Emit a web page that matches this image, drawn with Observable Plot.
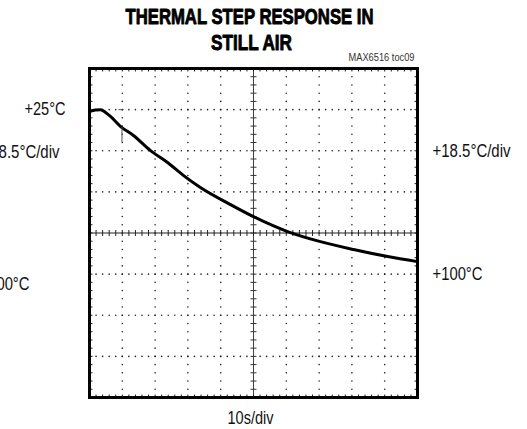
<!DOCTYPE html>
<html>
<head>
<meta charset="utf-8">
<script src="https://cdn.jsdelivr.net/npm/d3@7"></script>
<script src="https://cdn.jsdelivr.net/npm/@observablehq/plot@0.6"></script>
<style>
  html, body { margin: 0; padding: 0; background: #fff; }
  #chart svg { display: block; }
</style>
</head>
<body>
<div id="chart"></div>
<script>
// ---- data ----
const timeS = [0, 1.8, 3.4, 4.9, 6.4, 9.5, 13.4, 18.6, 23.8, 28.7, 33.8, 43.0, 50.0, 60.4, 70.4, 80.5, 90.9, 100];
const tempC = [25.9, 25.2, 25.0, 26.3, 28.1, 32.7, 36.8, 43.7, 49.1, 55.1, 60.5, 68.3, 73.8, 80.6, 85.2, 88.8, 92.0, 94.3];

// small glitch on the trace
const glitchT = [9.9];
const glitchFrom = [33.2];
const glitchTo = [40.0];
const dashT1 = [9.0];
const dashT2 = [10.6];
const dashC = [25.0];

// graticule divisions
const xDivs = [0, 10, 20, 30, 40, 50, 60, 70, 80, 90, 100];               // 10 s/div
const yDivs = [6.25, 25, 43.75, 62.5, 81.25, 100, 118.75, 137.5, 156.25]; // ~18.5 °C/div
const xCenter = 50;
const yCenter = 81.25;

// labels
const titleLines = ["THERMAL STEP RESPONSE IN", "STILL AIR"];
const tocLabel = "MAX6516 toc09";
const xLabel = "10s/div";
const leftLabels = ["+25°C", "+18.5°C/div", "+100°C"];
const leftLabelC = [25, 43.75, 100];
const rightLabels = ["+18.5°C/div", "+100°C"];
const rightLabelC = [43.75, 100];

// ---- derived graticule points ----
const xStep = (xDivs[1] - xDivs[0]) / 5;
const yStep = (yDivs[1] - yDivs[0]) / 5;
const xMinor = d3.range(0, 51).map(i => xDivs[0] + i * xStep);
const yMinor = d3.range(0, 41).map(i => yDivs[0] + i * yStep);
const yTopV = yDivs[0], yBottom = yDivs[yDivs.length - 1];
const xLeft = xDivs[0], xRight = xDivs[xDivs.length - 1];

const innerX = xDivs.slice(1, -1).filter(v => v !== xCenter);
const innerY = yDivs.slice(1, -1).filter(v => v !== yCenter);
const gridDots = [];
for (const x of innerX) for (const y of yMinor) gridDots.push({x, y});
for (const y of innerY) for (const x of xMinor) gridDots.push({x, y});

const sym = (x1, y1, x2, y2) => ({draw(ctx) { ctx.moveTo(x1, y1); ctx.lineTo(x2, y2); }});
const vTick = sym(0, -3, 0, 3);
const hTick = sym(-3, 0, 3, 0);
const downTick = sym(0, 0, 0, 3);
const upTick = sym(0, 0, 0, -3);
const rightTick = sym(0, 0, 3, 0);
const leftTick = sym(0, 0, -3, 0);

const trace = timeS.map((t, i) => ({t, c: tempC[i]}));
const glitch = glitchT.map((t, i) => ({t, c1: glitchFrom[i], c2: glitchTo[i]}));
const dash = dashC.map((c, i) => ({t1: dashT1[i], t2: dashT2[i], c}));

const FONT = "'Liberation Sans', Arial, sans-serif";

const inner = yMinor.slice(1, -1);
const innerXs = xMinor.slice(1, -1);

const leftDx = [-24, -30, -60];
const leftDy = [0, 1, 10];

const plot = Plot.plot({
  width: 527,
  height: 429,
  marginLeft: 89,
  marginRight: 110,
  marginTop: 68,
  marginBottom: 32,
  style: {fontFamily: FONT, background: "#fff", overflow: "visible"},
  x: {domain: [xLeft, xRight], axis: null},
  y: {domain: [yTopV, yBottom], reverse: true, axis: null},
  marks: [
    // dotted graticule
    Plot.dot(gridDots, {x: "x", y: "y", r: 0.8, fill: "#222", stroke: "none"}),
    // center axes
    Plot.ruleX([xCenter], {stroke: "#444", strokeWidth: 1}),
    Plot.ruleY([yCenter], {stroke: "#222", strokeWidth: 1.2}),
    Plot.dot(inner, {x: () => xCenter, y: d => d, symbol: hTick, stroke: "#333", fill: "none", strokeWidth: 1}),
    Plot.dot(innerXs, {x: d => d, y: () => yCenter, symbol: vTick, stroke: "#222", fill: "none", strokeWidth: 1}),
    // edge ticks
    Plot.dot(inner, {x: () => xLeft, y: d => d, symbol: rightTick, stroke: "#222", fill: "none", strokeWidth: 1}),
    Plot.dot(inner, {x: () => xRight, y: d => d, symbol: leftTick, stroke: "#222", fill: "none", strokeWidth: 1}),
    Plot.dot(innerXs, {x: d => d, y: () => yTopV, symbol: downTick, stroke: "#222", fill: "none", strokeWidth: 1}),
    Plot.dot(innerXs, {x: d => d, y: () => yBottom, symbol: upTick, stroke: "#222", fill: "none", strokeWidth: 1}),
    // trace
    Plot.line(trace, {x: "t", y: "c", stroke: "#000", strokeWidth: 3, strokeLinejoin: "round", curve: "monotone-x"}),
    Plot.ruleX(glitch, {x: "t", y1: "c1", y2: "c2", stroke: "#555", strokeWidth: 1}),
    Plot.ruleY(dash, {y: "c", x1: "t1", x2: "t2", stroke: "#555", strokeWidth: 1}),
    // frame
    Plot.frame({stroke: "#000", strokeWidth: 3}),
    // titles
    Plot.text([titleLines[0]], {frameAnchor: "top", dx: -4, dy: -60, fontSize: 22, fontWeight: "bold", fill: "#000", stroke: "#000", strokeWidth: 0.9}),
    Plot.text([titleLines[1]], {frameAnchor: "top", dx: -2, dy: -34, fontSize: 22, fontWeight: "bold", fill: "#000", stroke: "#000", strokeWidth: 0.9}),
    Plot.text([tocLabel], {frameAnchor: "top-right", textAnchor: "end", dx: -3, dy: -15, fontSize: 10.5, fill: "#333"}),
    Plot.text([xLabel], {frameAnchor: "bottom", dx: -3, dy: 26, fontSize: 18, fill: "#111"}),
    // side labels
    ...leftLabels.map((s, i) => Plot.text([s], {x: () => xLeft, y: () => leftLabelC[i], dx: leftDx[i], dy: leftDy[i], textAnchor: "end", fontSize: 18, fill: "#111"})),
    Plot.text(rightLabels, {x: () => xRight, y: (d, i) => rightLabelC[i], dx: 15, textAnchor: "start", fontSize: 18, fill: "#111"})
  ]
});
document.getElementById("chart").appendChild(plot);

// condense the text to match the narrow typeface of the reference
const widths = {
  "THERMAL STEP RESPONSE IN": 248,
  "STILL AIR": 81,
  "MAX6516 toc09": 66,
  "10s/div": 46,
  "+18.5°C/div": 78,
  "+100°C": 50,
  "+25°C": 41
};
d3.select(plot).selectAll("text").each(function() {
  const t = this.textContent;
  if (widths[t] != null) {
    this.setAttribute("textLength", widths[t]);
    this.setAttribute("lengthAdjust", "spacingAndGlyphs");
  }
});
</script>
</body>
</html>
